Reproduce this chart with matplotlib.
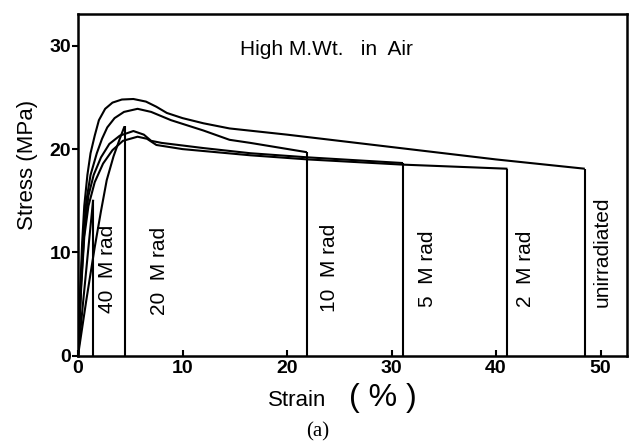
import matplotlib
matplotlib.use("Agg")
import matplotlib.pyplot as plt

plt.rcParams['font.family'] = ['Liberation Sans', 'DejaVu Sans']

# Stress-strain curves (strain %, stress MPa) for each irradiation dose
unirr_strain = [0, 0.2, 0.4, 0.6, 0.9, 1.2, 1.6, 2.0, 2.6, 3.3, 4.2, 5.3, 6.5, 7.5, 8.5, 10, 12, 14.5, 20, 30, 40, 48.5]
unirr_stress = [0, 6.0, 11.0, 14.5, 17.5, 19.6, 21.3, 22.8, 23.9, 24.5, 24.8, 24.85, 24.6, 24.1, 23.5, 23.0, 22.5, 22.0, 21.4, 20.2, 19.0, 18.1]

m2_strain = [0, 0.3, 0.6, 1.0, 1.6, 2.4, 3.3, 4.3, 5.7, 6.6, 7.5, 10, 16.5, 22, 31, 41.1]
m2_stress = [0, 6.5, 11.5, 14.5, 16.8, 18.6, 19.9, 20.8, 21.2, 21.0, 20.4, 20.0, 19.4, 19.0, 18.5, 18.1]

m5_strain = [0, 0.3, 0.6, 1.0, 1.5, 2.2, 3.0, 4.0, 5.3, 6.3, 7.0, 8.0, 12, 16.5, 22, 31.1]
m5_stress = [0, 7.0, 12.0, 15.5, 17.5, 19.2, 20.5, 21.3, 21.75, 21.4, 20.8, 20.6, 20.1, 19.6, 19.2, 18.65]

m10_strain = [0, 0.25, 0.5, 0.8, 1.2, 1.8, 2.3, 2.8, 3.5, 4.4, 5.7, 7.0, 8.9, 12, 14.5, 16.5, 21.9]
m10_stress = [0, 6.5, 11.5, 15.0, 17.5, 19.6, 21.0, 22.1, 23.0, 23.6, 23.9, 23.6, 22.8, 21.8, 20.9, 20.6, 19.7]

m20_strain = [0, 0.8, 1.6, 2.2, 2.75, 3.4, 4.0, 4.45]
m20_stress = [0, 5.4, 10.5, 14.0, 17.0, 19.3, 21.0, 22.2]

m40_strain = [0, 0.5, 1.0, 1.45]
m40_stress = [0, 5.3, 10.5, 15.1]

series = [
    (unirr_strain, unirr_stress, "unirradiated"),
    (m2_strain, m2_stress, "2  M rad"),
    (m5_strain, m5_stress, "5  M rad"),
    (m10_strain, m10_stress, "10  M rad"),
    (m20_strain, m20_stress, "20  M rad"),
    (m40_strain, m40_stress, "40  M rad"),
]

# Rotated curve labels: (strain, stress at text bottom)
label_pos = {
    "unirradiated": (50.2, 4.7),
    "2  M rad": (42.8, 4.7),
    "5  M rad": (33.4, 4.7),
    "10  M rad": (24.1, 4.2),
    "20  M rad": (7.8, 3.9),
    "40  M rad": (2.8, 4.1),
}

W, H = 629, 442
fig = plt.figure(figsize=(W / 100, H / 100), dpi=100)
ax = fig.add_axes([78 / W, 1 - 355.7 / H, (627 - 78) / W, (355.7 - 14) / H])

lw = 1.5
for xs, ys, name in series:
    ax.plot(xs, ys, color="black", lw=lw, solid_joinstyle="round", solid_capstyle="butt")
    # fracture: vertical drop to zero stress
    ax.vlines(xs[-1], 0, ys[-1], color="black", lw=lw)
    lx, ly = label_pos[name]
    ax.text(lx, ly, name, rotation=90, ha="center", va="bottom", fontsize=15)

ax.set_xlim(0, (627 - 78) / 10.45)
ax.set_ylim(0, (355.7 - 14) / 10.33)
ax.set_xticks([0, 10, 20, 30, 40, 50])
ax.set_yticks([0, 10, 20, 30])
ax.tick_params(axis="x", direction="in", length=4, width=1.5, pad=3, labelsize=14)
ax.tick_params(axis="y", direction="out", length=4, width=1.5, pad=1, labelsize=14)
for lab in ax.get_xticklabels() + ax.get_yticklabels():
    lab.set_fontweight("bold")
for sp in ax.spines.values():
    sp.set_linewidth(1.8)

ax.text(23.8, 29.6, "High M.Wt.   in  Air", ha="center", va="center", fontsize=15)

fig.text(297.5 / W, 1 - 400 / H, "Strain", ha="center", va="center", fontsize=16)
fig.text(383 / W, 1 - 398 / H, "( % )", ha="center", va="center", fontsize=23)
fig.text(318 / W, 1 - 432 / H, "(a)", ha="center", va="center", fontsize=15, family="Liberation Serif")
fig.text(27 / W, 1 - 165 / H, "Stress (MPa)", ha="center", va="center", rotation=90, fontsize=16)

fig.savefig("out.png", dpi=100)
